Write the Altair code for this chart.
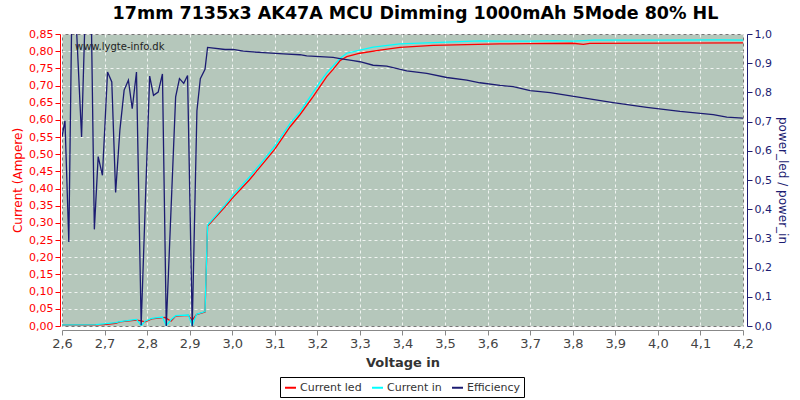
import altair as alt
import pandas as pd

TITLE = "17mm 7135x3 AK47A MCU Dimming 1000mAh 5Mode 80% HL"

led_v = [2.600, 2.680, 2.700, 2.726, 2.736, 2.775, 2.786, 2.795, 2.811, 2.842, 2.856, 2.867,
         2.897, 2.906, 2.916, 2.936, 2.942, 2.983, 3.003, 3.040, 3.073, 3.100, 3.136, 3.159,
         3.190, 3.206, 3.222, 3.237, 3.253, 3.269, 3.300, 3.347, 3.394, 3.472, 3.551, 3.629,
         3.700, 3.800, 3.825, 3.840, 4.200]
led_a = [0.003, 0.003, 0.004, 0.008, 0.012, 0.017, 0.015, 0.012, 0.021, 0.025, 0.014, 0.029,
         0.031, 0.017, 0.033, 0.041, 0.291, 0.347, 0.376, 0.425, 0.474, 0.515, 0.580, 0.615,
         0.668, 0.697, 0.726, 0.747, 0.772, 0.784, 0.794, 0.803, 0.811, 0.817, 0.819, 0.821,
         0.822, 0.823, 0.820, 0.823, 0.824]

in_v = [2.600, 2.680, 2.726, 2.736, 2.775, 2.786, 2.795, 2.811, 2.836, 2.845, 2.856, 2.867,
        2.897, 2.906, 2.916, 2.936, 2.942, 2.983, 3.003, 3.040, 3.073, 3.100, 3.136, 3.159,
        3.190, 3.206, 3.222, 3.237, 3.253, 3.269, 3.300, 3.331, 3.394, 3.472, 3.582, 3.629,
        3.700, 3.760, 3.800, 3.850, 4.000, 4.150, 4.200]
in_a = [0.003, 0.004, 0.010, 0.013, 0.019, 0.001, 0.014, 0.022, 0.026, 0.001, 0.018, 0.030,
        0.032, 0.001, 0.034, 0.042, 0.294, 0.352, 0.383, 0.433, 0.482, 0.524, 0.590, 0.623,
        0.680, 0.710, 0.737, 0.757, 0.779, 0.794, 0.803, 0.812, 0.821, 0.825, 0.830, 0.829,
        0.829, 0.831, 0.829, 0.832, 0.832, 0.833, 0.832]

eff_v = [2.600, 2.607, 2.616, 2.625, 2.646, 2.657, 2.667, 2.676, 2.685, 2.695, 2.707, 2.717,
         2.726, 2.736, 2.746, 2.756, 2.765, 2.775, 2.786, 2.806, 2.815, 2.826, 2.836, 2.845,
         2.867, 2.876, 2.886, 2.895, 2.906, 2.917, 2.925, 2.936, 2.942, 2.983, 3.002, 3.026,
         3.073, 3.120, 3.159, 3.175, 3.237, 3.253, 3.284, 3.300, 3.331, 3.363, 3.410, 3.457,
         3.504, 3.551, 3.582, 3.629, 3.660, 3.700, 3.747, 3.817, 3.895, 3.974, 4.052, 4.130,
         4.162, 4.200]
eff_r = [0.648, 0.703, 0.288, 1.300, 0.647, 1.200, 1.250, 0.331, 0.580, 0.516, 0.870, 0.836,
         0.457, 0.671, 0.808, 0.842, 0.744, 0.870, 0.003, 0.856, 0.790, 0.801, 0.863, 0.000,
         0.785, 0.847, 0.831, 0.858, 0.000, 0.737, 0.847, 0.879, 0.954, 0.947, 0.947, 0.941,
         0.936, 0.932, 0.929, 0.925, 0.920, 0.916, 0.909, 0.905, 0.893, 0.890, 0.874, 0.865,
         0.851, 0.842, 0.833, 0.824, 0.820, 0.806, 0.799, 0.783, 0.765, 0.749, 0.735, 0.724,
         0.715, 0.712]

x_ticks = [round(2.6 + 0.1 * i, 1) for i in range(17)]
cur_ticks = [round(0.05 * i, 2) for i in range(18)]
eff_ticks = [round(0.1 * i, 1) for i in range(11)]

series_names = ["Current led", "Current in", "Efficiency"]
series_colors = ["#ff0000", "#00ffff", "#1c1c72"]

cur_df = pd.concat([
    pd.DataFrame({"v": led_v, "val": led_a, "series": "Current led", "o": range(len(led_v))}),
    pd.DataFrame({"v": in_v, "val": in_a, "series": "Current in", "o": range(len(in_v))}),
])
eff_df = pd.DataFrame({"v": eff_v, "val": eff_r, "series": "Efficiency", "o": range(len(eff_v))})

FONT = "DejaVu Sans"
xscale = alt.Scale(domain=[2.6, 4.2], nice=False, zero=False)
color = alt.Color("series:N",
                  scale=alt.Scale(domain=series_names, range=series_colors),
                  legend=alt.Legend(title=None, orient="none", legendX=218, legendY=343,
                                    direction="horizontal", symbolType="stroke",
                                    symbolStrokeWidth=2, symbolSize=120,
                                    labelFont=FONT, labelFontSize=11, labelColor="#333333",
                                    labelOffset=3, columnPadding=6,
                                    strokeColor="#000000", padding=4,
                                    fillColor="white"))

xaxis = alt.Axis(values=x_ticks, title="Voltage in", titleFont=FONT, titleFontSize=13,
                 titleFontWeight="bold", titleColor="#333333", titlePadding=6,
                 labelExpr="replace(format(datum.value, '.1f'), '.', ',')",
                 labelFont=FONT, labelFontSize=13, labelColor="#444444", labelFlush=False,
                 domainColor="#888888", tickColor="#888888", offset=4,
                 gridColor="white", gridDash=[3, 3], gridOpacity=0.8)

cur_layer = alt.Chart(cur_df).mark_line(strokeWidth=1.3, clip=True).encode(
    x=alt.X("v:Q", scale=xscale, axis=xaxis),
    y=alt.Y("val:Q", scale=alt.Scale(domain=[0, 0.85], nice=False),
            axis=alt.Axis(values=cur_ticks, title="Current (Ampere)", titleColor="#ff0000",
                          titleFont=FONT, titleFontSize=12, titleFontWeight="normal",
                          labelExpr="replace(format(datum.value, '.2f'), '.', ',')",
                          labelFont=FONT, labelFontSize=11, labelColor="#ff0000",
                          domainColor="#ff0000", tickColor="#ff0000", offset=2,
                          gridColor="white", gridDash=[3, 3], gridOpacity=0.8)),
    color=color,
    order="o:Q",
    detail="series:N",
)

eff_layer = alt.Chart(eff_df).mark_line(strokeWidth=1.3, clip=True).encode(
    x=alt.X("v:Q", scale=xscale),
    y=alt.Y("val:Q", scale=alt.Scale(domain=[0, 1], nice=False),
            axis=alt.Axis(values=eff_ticks, orient="right", title="power_led / power_in",
                          titleColor="#1c1c72", titleFont=FONT, titleFontSize=12,
                          titleFontWeight="normal",
                          labelExpr="replace(format(datum.value, '.1f'), '.', ',')",
                          labelFont=FONT, labelFontSize=11, labelColor="#1c1c72",
                          domainColor="#1c1c72", tickColor="#1c1c72", offset=4, grid=False)),
    color=color,
    order="o:Q",
)

site = alt.Chart(pd.DataFrame({"t": ["www.lygte-info.dk"]})).mark_text(
    font=FONT, fontSize=10, color="#222222", align="left", baseline="middle"
).encode(x=alt.value(13), y=alt.value(13), text="t:N")

chart = alt.layer(cur_layer, eff_layer, site).resolve_scale(y="independent").properties(
    width=681, height=292,
    autosize=alt.AutoSizeParams(type="none"),
    padding={"left": 62, "top": 34, "right": 57, "bottom": 74},
    background="white",
    title=alt.TitleParams(TITLE, font=FONT, fontSize=17.5, fontWeight="bold", color="#000000",
                          anchor="middle", offset=6, dx=13),
).configure_view(fill="#b5c7bb", stroke="#777777", strokeWidth=1)

chart.save("out.html", embed_options={"renderer": "svg", "actions": False})
